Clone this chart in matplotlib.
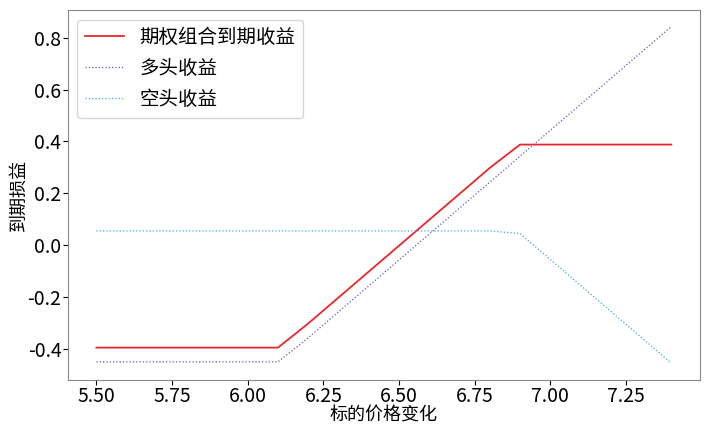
import matplotlib
matplotlib.use('Agg')
import matplotlib.pyplot as plt

plt.rcParams['font.family'] = ['Noto Sans CJK SC', 'DejaVu Sans']
plt.rcParams['axes.unicode_minus'] = False

# underlying price grid
price = [5.5, 5.6, 5.7, 5.8, 5.9, 6.0, 6.1, 6.2, 6.3, 6.4,
         6.5, 6.6, 6.7, 6.8, 6.9, 7.0, 7.1, 7.2, 7.3, 7.4]
# long call payoff
long_pay = [-0.45, -0.45, -0.45, -0.45, -0.45, -0.45, -0.45, -0.357, -0.257, -0.157,
            -0.057, 0.043, 0.143, 0.243, 0.343, 0.443, 0.543, 0.643, 0.743, 0.843]
# short call payoff
short_pay = [0.055, 0.055, 0.055, 0.055, 0.055, 0.055, 0.055, 0.055, 0.055, 0.055,
             0.055, 0.055, 0.055, 0.055, 0.045, -0.055, -0.155, -0.255, -0.355, -0.455]
# combined payoff
combo_pay = [-0.395, -0.395, -0.395, -0.395, -0.395, -0.395, -0.395, -0.302, -0.202, -0.102,
             -0.002, 0.098, 0.198, 0.298, 0.388, 0.388, 0.388, 0.388, 0.388, 0.388]

fig = plt.figure(figsize=(7.05, 4.26), dpi=100)
ax = fig.add_axes([0.096, 0.108, 0.897, 0.869])

ax.plot(price, combo_pay, color='#e8262d', lw=1.3, label='期权组合到期收益')
ax.plot(price, long_pay, color='#5b5bc8', lw=0.9, ls=':', label='多头收益')
ax.plot(price, short_pay, color='#3fa9dc', lw=0.9, ls=':', label='空头收益')

ax.set_xticks([5.5, 5.75, 6.0, 6.25, 6.5, 6.75, 7.0, 7.25])
ax.set_xticklabels(['5.50', '5.75', '6.00', '6.25', '6.50', '6.75', '7.00', '7.25'])
ax.set_yticks([-0.4, -0.2, 0.0, 0.2, 0.4, 0.6, 0.8])
ax.set_yticklabels(['-0.4', '-0.2', '0.0', '0.2', '0.4', '0.6', '0.8'])
ax.tick_params(labelsize=14, pad=1)
for s in ax.spines.values():
    s.set_color('#888888')

ax.set_xlabel('标的价格变化', fontsize=13, va='center')
ax.xaxis.set_label_coords(0.5, -0.095)
ax.set_ylabel('到期损益', fontsize=13, va='center')
ax.yaxis.set_label_coords(-0.078, 0.5)
ax.legend(loc='upper left', fontsize=14)

fig.savefig('out.png', dpi=100)
